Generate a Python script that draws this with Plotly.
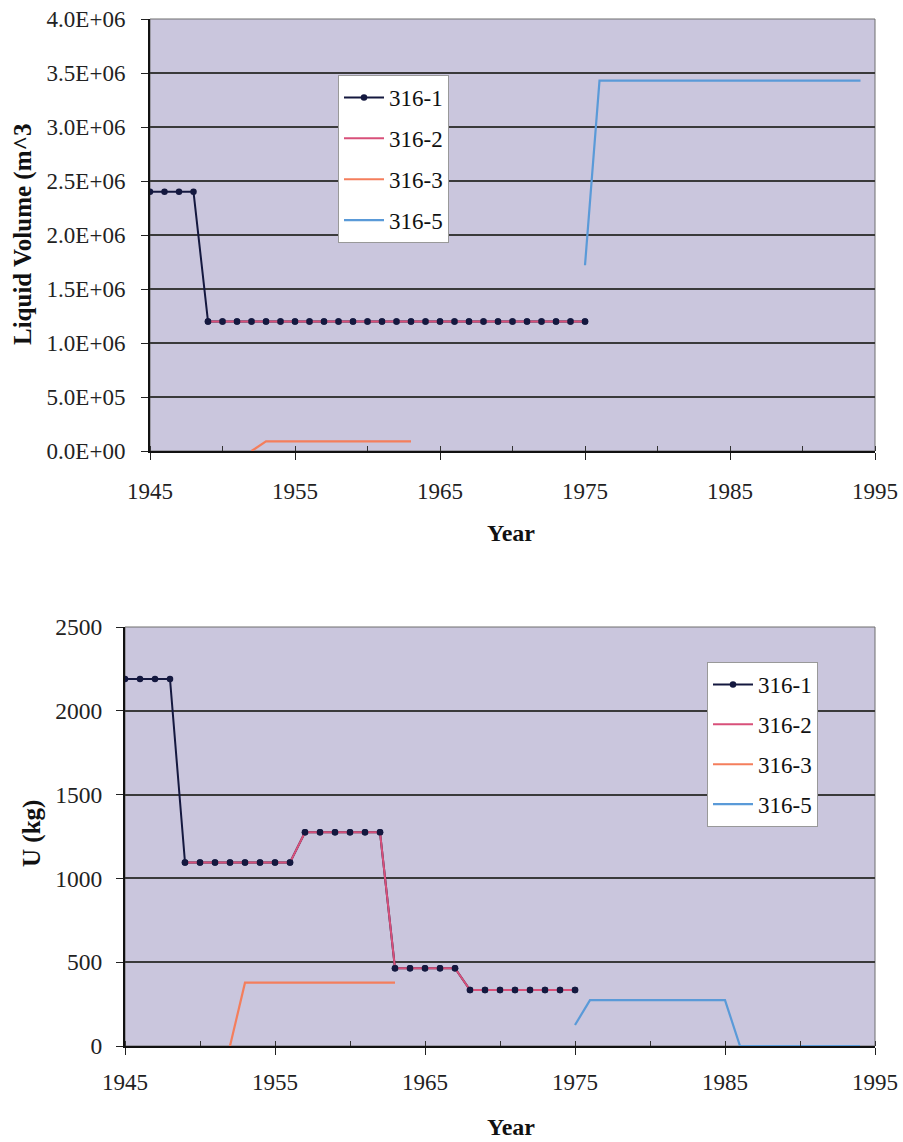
import plotly.graph_objects as go

# ---------------- data ----------------
years_316_1 = [1945, 1946, 1947, 1948, 1949, 1950, 1951, 1952, 1953, 1954, 1955, 1956,
               1957, 1958, 1959, 1960, 1961, 1962, 1963, 1964, 1965, 1966, 1967, 1968,
               1969, 1970, 1971, 1972, 1973, 1974, 1975]
years_316_2 = [1949, 1950, 1951, 1952, 1953, 1954, 1955, 1956, 1957, 1958, 1959, 1960,
               1961, 1962, 1963, 1964, 1965, 1966, 1967, 1968, 1969, 1970, 1971, 1972,
               1973, 1974, 1975]
years_316_3 = [1952, 1953, 1954, 1955, 1956, 1957, 1958, 1959, 1960, 1961, 1962, 1963]
years_316_5 = [1975, 1976, 1977, 1978, 1979, 1980, 1981, 1982, 1983, 1984, 1985, 1986,
               1987, 1988, 1989, 1990, 1991, 1992, 1993, 1994]

# Liquid volume (m^3)
vol_316_1 = [2.4e6, 2.4e6, 2.4e6, 2.4e6, 1.2e6, 1.2e6, 1.2e6, 1.2e6, 1.2e6, 1.2e6, 1.2e6,
             1.2e6, 1.2e6, 1.2e6, 1.2e6, 1.2e6, 1.2e6, 1.2e6, 1.2e6, 1.2e6, 1.2e6, 1.2e6,
             1.2e6, 1.2e6, 1.2e6, 1.2e6, 1.2e6, 1.2e6, 1.2e6, 1.2e6, 1.2e6]
vol_316_2 = [1.2e6, 1.2e6, 1.2e6, 1.2e6, 1.2e6, 1.2e6, 1.2e6, 1.2e6, 1.2e6, 1.2e6, 1.2e6,
             1.2e6, 1.2e6, 1.2e6, 1.2e6, 1.2e6, 1.2e6, 1.2e6, 1.2e6, 1.2e6, 1.2e6, 1.2e6,
             1.2e6, 1.2e6, 1.2e6, 1.2e6, 1.2e6]
vol_316_3 = [0, 9e4, 9e4, 9e4, 9e4, 9e4, 9e4, 9e4, 9e4, 9e4, 9e4, 9e4]
vol_316_5 = [1.72e6, 3.43e6, 3.43e6, 3.43e6, 3.43e6, 3.43e6, 3.43e6, 3.43e6, 3.43e6,
             3.43e6, 3.43e6, 3.43e6, 3.43e6, 3.43e6, 3.43e6, 3.43e6, 3.43e6, 3.43e6,
             3.43e6, 3.43e6]

# U (kg)
u_316_1 = [2190, 2190, 2190, 2190, 1095, 1095, 1095, 1095, 1095, 1095, 1095, 1095,
           1275, 1275, 1275, 1275, 1275, 1275, 464, 464, 464, 464, 464, 334,
           334, 334, 334, 334, 334, 334, 334]
u_316_2 = [1095, 1095, 1095, 1095, 1095, 1095, 1095, 1095, 1275, 1275, 1275, 1275,
           1275, 1275, 464, 464, 464, 464, 464, 334, 334, 334, 334, 334, 334, 334, 334]
u_316_3 = [0, 378, 378, 378, 378, 378, 378, 378, 378, 378, 378, 378]
u_316_5 = [125, 274, 274, 274, 274, 274, 274, 274, 274, 274, 274, 0,
           0, 0, 0, 0, 0, 0, 0, 0]

vol_tickvals = [0, 5e5, 1e6, 1.5e6, 2e6, 2.5e6, 3e6, 3.5e6, 4e6]
vol_ticktext = ["0.0E+00", "5.0E+05", "1.0E+06", "1.5E+06", "2.0E+06", "2.5E+06",
                "3.0E+06", "3.5E+06", "4.0E+06"]
u_tickvals = [0, 500, 1000, 1500, 2000, 2500]
year_tickvals = [1945, 1955, 1965, 1975, 1985, 1995]

colors = {"316-1": "#14183F", "316-2": "#D8507A", "316-3": "#F47E5C", "316-5": "#5A9AD8"}

W, H = 903, 1142
FONT = "Liberation Serif"
BG = "#CAC6DD"

fig = go.Figure()

def add_panel(xa, ya, legend, y1, y2, y3, y5):
    fig.add_trace(go.Scatter(x=years_316_1, y=y1, name="316-1", mode="lines+markers",
                             line=dict(color=colors["316-1"], width=2),
                             marker=dict(color=colors["316-1"], size=6.5),
                             xaxis=xa, yaxis=ya, legend=legend, legendgroup=legend + "a"))
    fig.add_trace(go.Scatter(x=years_316_2, y=y2, name="316-2", mode="lines",
                             line=dict(color=colors["316-2"], width=2),
                             xaxis=xa, yaxis=ya, legend=legend, legendgroup=legend + "b"))
    fig.add_trace(go.Scatter(x=years_316_2, y=y2, mode="markers", showlegend=False,
                             marker=dict(color=colors["316-1"], size=6.5),
                             xaxis=xa, yaxis=ya, hoverinfo="skip",
                             legend=legend, legendgroup=legend + "b"))
    fig.add_trace(go.Scatter(x=years_316_3, y=y3, name="316-3", mode="lines",
                             line=dict(color=colors["316-3"], width=2.2),
                             xaxis=xa, yaxis=ya, legend=legend, legendgroup=legend + "c"))
    fig.add_trace(go.Scatter(x=years_316_5, y=y5, name="316-5", mode="lines",
                             line=dict(color=colors["316-5"], width=2.2),
                             xaxis=xa, yaxis=ya, legend=legend, legendgroup=legend + "d"))

add_panel("x", "y", "legend", vol_316_1, vol_316_2, vol_316_3, vol_316_5)
add_panel("x2", "y2", "legend2", u_316_1, u_316_2, u_316_3, u_316_5)

def px(v):
    return v / W

def py(v):
    return 1 - v / H

def xaxis_cfg(standoff):
    return dict(range=[1945, 1995], tickvals=year_tickvals, ticks="outside", ticklen=7,
                tickcolor="#222", tickwidth=1, showgrid=False, zeroline=False,
                showline=True, linecolor="#111", linewidth=2, automargin=False,
                tickfont=dict(family=FONT, size=23, color="#222"),
                ticklabelstandoff=standoff,
                minor=dict(dtick=5, tick0=1945, ticks="inside", ticklen=5,
                           tickcolor="#333", showgrid=False))

def yaxis_cfg(tickvals, gap):
    # long transparent major ticks push the labels out; visible short ticks via minor
    return dict(tickvals=tickvals, ticks="outside", ticklen=gap, tickcolor="rgba(0,0,0,0)",
                tickwidth=1, showgrid=True, gridcolor="#3A3A3A", gridwidth=1.5,
                zeroline=False, showline=True, linecolor="#111", linewidth=2,
                automargin=False,
                minor=dict(tickvals=tickvals, ticks="outside", ticklen=7,
                           tickcolor="#222", tickwidth=1, showgrid=False))

fig.update_layout(
    width=W, height=H,
    margin=dict(l=0, r=0, t=0, b=0, autoexpand=False),
    paper_bgcolor="white", plot_bgcolor=BG,
    font=dict(family=FONT, color="#222"),
    xaxis=dict(domain=[px(150), px(875)], anchor="y", **xaxis_cfg(11)),
    yaxis=dict(domain=[py(451), py(19)], anchor="x", range=[0, 4e6],
               ticktext=vol_ticktext,
               tickfont=dict(family=FONT, size=23, color="#222"),
               **yaxis_cfg(vol_tickvals, 18)),
    xaxis2=dict(domain=[px(125), px(875)], anchor="y2", **xaxis_cfg(7)),
    yaxis2=dict(domain=[py(1046), py(627)], anchor="x2", range=[0, 2500],
                tickfont=dict(family=FONT, size=23.5, color="#222"),
                **yaxis_cfg(u_tickvals, 16)),
    legend=dict(x=px(338), y=py(75), xanchor="left", yanchor="top",
                bgcolor="white", bordercolor="#999", borderwidth=1,
                font=dict(family=FONT, size=23, color="#111"),
                tracegroupgap=8, traceorder="grouped", itemwidth=40),
    legend2=dict(x=px(707), y=py(662), xanchor="left", yanchor="top",
                 bgcolor="white", bordercolor="#999", borderwidth=1,
                 font=dict(family=FONT, size=23, color="#111"),
                 tracegroupgap=7, traceorder="grouped", itemwidth=40),
    showlegend=True,
)

# plot-area frame (thin grey right edge)
for xr, yr in [("x domain", "y domain"), ("x2 domain", "y2 domain")]:
    fig.add_shape(type="rect", xref=xr, yref=yr, x0=0, x1=1, y0=0, y1=1,
                  line=dict(color="#6E6E6E", width=1), layer="below")

# axis titles
ann = [
    dict(text="<b>Liquid Volume (m^3</b>", x=px(23), y=py(234), textangle=-90, size=25),
    dict(text="<b>Year</b>", x=px(511), y=py(533), textangle=0, size=24),
    dict(text="<b>U (kg)</b>", x=px(32), y=py(834), textangle=-90, size=25),
    dict(text="<b>Year</b>", x=px(511), y=py(1127), textangle=0, size=24),
]
for a in ann:
    fig.add_annotation(text=a["text"], x=a["x"], y=a["y"], xref="paper", yref="paper",
                       xanchor="center", yanchor="middle", showarrow=False,
                       textangle=a["textangle"],
                       font=dict(family=FONT, size=a["size"], color="#111"))

fig.write_html("out.html")
